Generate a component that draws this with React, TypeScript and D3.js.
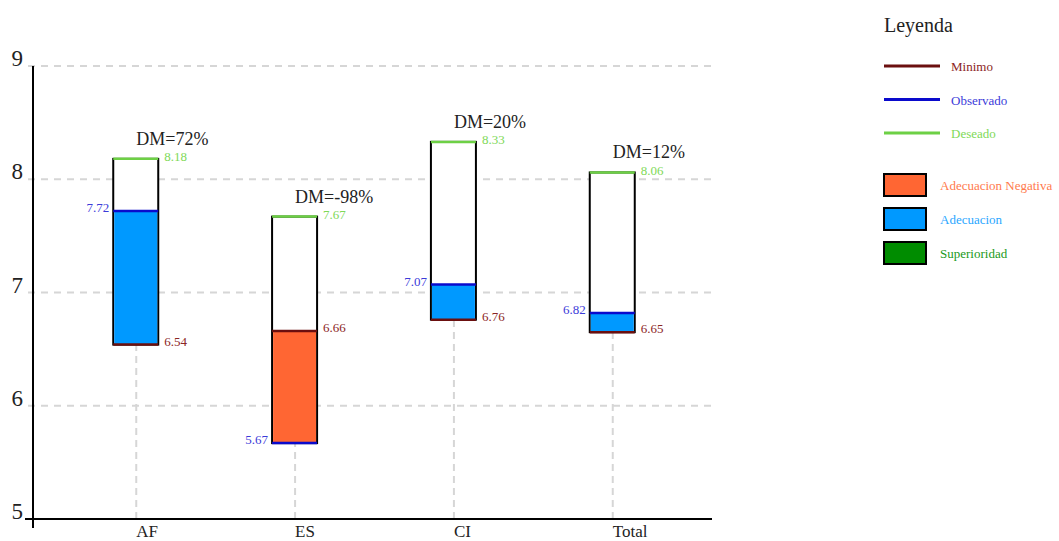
import * as d3 from "d3";

// categorias y valores
const categories = ["AF", "ES", "CI", "Total"];
const minimo = [6.54, 6.66, 6.76, 6.65];
const observado = [7.72, 5.67, 7.07, 6.82];
const deseado = [8.18, 7.67, 8.33, 8.06];
const dm = ["72%", "-98%", "20%", "12%"];
const yTicks = [5, 6, 7, 8, 9];

const lineItems = [
  { label: "Minimo", stroke: "#6b0f0f", text: "#8b2525" },
  { label: "Observado", stroke: "#0a0acc", text: "#3b3bd9" },
  { label: "Deseado", stroke: "#6dd045", text: "#7ed957" },
];
const boxItems = [
  { label: "Adecuacion Negativa", fill: "#ff6633", text: "#ff7a4d" },
  { label: "Adecuacion", fill: "#0099ff", text: "#2aa7ff" },
  { label: "Superioridad", fill: "#008c00", text: "#1a9a1a" },
];

const W = 1059;
const H = 541;
const font = "'Liberation Serif', 'Times New Roman', serif";

const App = () => {
  const y = d3.scaleLinear().domain([5, 9]).range([519, 66]);
  const x = d3.scalePoint<string>().domain(categories).range([33, 716]).padding(0.65);
  const axisLeft = 33;
  const axisRight = 712;
  const barW = 45;

  const data = categories.map((c, i) => ({
    cat: c,
    min: minimo[i],
    obs: observado[i],
    des: deseado[i],
    dm: dm[i],
  }));

  return (
    <svg
      width={W}
      height={H}
      viewBox={`0 0 ${W} ${H}`}
      style={{ position: "absolute", left: 0, top: 0, background: "#fff", fontFamily: font }}
    >
      {/* grid horizontal */}
      <g>
        {yTicks.slice(1).map((t) => (
          <line
            key={t}
            x1={axisLeft - 5}
            x2={axisRight}
            y1={y(t)}
            y2={y(t)}
            stroke="#d6d6d6"
            strokeWidth={2}
            strokeDasharray="7,6"
          />
        ))}
      </g>

      {/* grid vertical, solo bajo las barras */}
      <g>
        {data.map((d) => (
          <line
            key={d.cat}
            x1={x(d.cat)!}
            x2={x(d.cat)!}
            y1={y(5)}
            y2={y(Math.min(d.min, d.obs))}
            stroke="#d6d6d6"
            strokeWidth={2}
            strokeDasharray="7,5"
          />
        ))}
      </g>

      {/* ejes */}
      <line x1={axisLeft} x2={axisLeft} y1={y(9)} y2={y(5) + 9} stroke="#000" strokeWidth={2} />
      <line x1={axisLeft - 8} x2={axisRight} y1={y(5)} y2={y(5)} stroke="#000" strokeWidth={2} />

      {yTicks.map((t) => (
        <text key={t} x={axisLeft - 10} y={y(t)} textAnchor="end" fontSize={23} fill="#222">
          {t}
        </text>
      ))}
      {categories.map((c) => (
        <text key={c} x={x(c)!} y={537} fontSize={17} fill="#222">
          {c}
        </text>
      ))}

      {/* barras */}
      {data.map((d) => {
        const cx = x(d.cat)! - 0.5;
        const left = cx - barW / 2;
        const right = cx + barW / 2;
        const bottom = Math.min(d.min, d.obs);
        const fill = d.obs > d.des ? boxItems[2].fill : d.obs >= d.min ? boxItems[1].fill : boxItems[0].fill;
        return (
          <g key={d.cat}>
            <rect
              x={left}
              y={y(d.des)}
              width={barW}
              height={y(bottom) - y(d.des)}
              fill="#fff"
              stroke="#000"
              strokeWidth={2}
            />
            <rect
              x={left + 1}
              y={y(Math.max(d.min, d.obs))}
              width={barW - 2}
              height={Math.abs(y(d.min) - y(d.obs))}
              fill={fill}
            />
            <line x1={left} x2={right} y1={y(d.min)} y2={y(d.min)} stroke={lineItems[0].stroke} strokeWidth={2.5} />
            <line x1={left} x2={right} y1={y(d.obs)} y2={y(d.obs)} stroke={lineItems[1].stroke} strokeWidth={2.5} />
            <line x1={left} x2={right} y1={y(d.des)} y2={y(d.des)} stroke={lineItems[2].stroke} strokeWidth={2.5} />

            <text x={right + 6} y={y(d.min) + 1} fontSize={13} fill={lineItems[0].text}>
              {d.min.toFixed(2)}
            </text>
            <text x={left - 4} y={y(d.obs) + 1} fontSize={13} textAnchor="end" fill={lineItems[1].text}>
              {d.obs.toFixed(2)}
            </text>
            <text x={right + 6} y={y(d.des) + 2.5} fontSize={13} fill={lineItems[2].text}>
              {d.des.toFixed(2)}
            </text>
            <text x={x(d.cat)!} y={y(d.des) - 14} fontSize={18} fill="#222">
              {`DM=${d.dm}`}
            </text>
          </g>
        );
      })}

      {/* leyenda */}
      <g>
        <text x={884} y={32} fontSize={20} fill="#222">
          Leyenda
        </text>
        {lineItems.map((it, i) => (
          <g key={it.label} transform={`translate(884,${66 + i * 33.5})`}>
            <line x1={0} x2={56} y1={0} y2={0} stroke={it.stroke} strokeWidth={3} />
            <text x={67} y={5} fontSize={13} fill={it.text}>
              {it.label}
            </text>
          </g>
        ))}
        {boxItems.map((it, i) => (
          <g key={it.label} transform={`translate(884,${174 + i * 34})`}>
            <rect x={0} y={0} width={42} height={22} fill={it.fill} stroke="#000" strokeWidth={2} />
            <text x={56} y={16} fontSize={13} fill={it.text}>
              {it.label}
            </text>
          </g>
        ))}
      </g>
    </svg>
  );
};

export default App;
